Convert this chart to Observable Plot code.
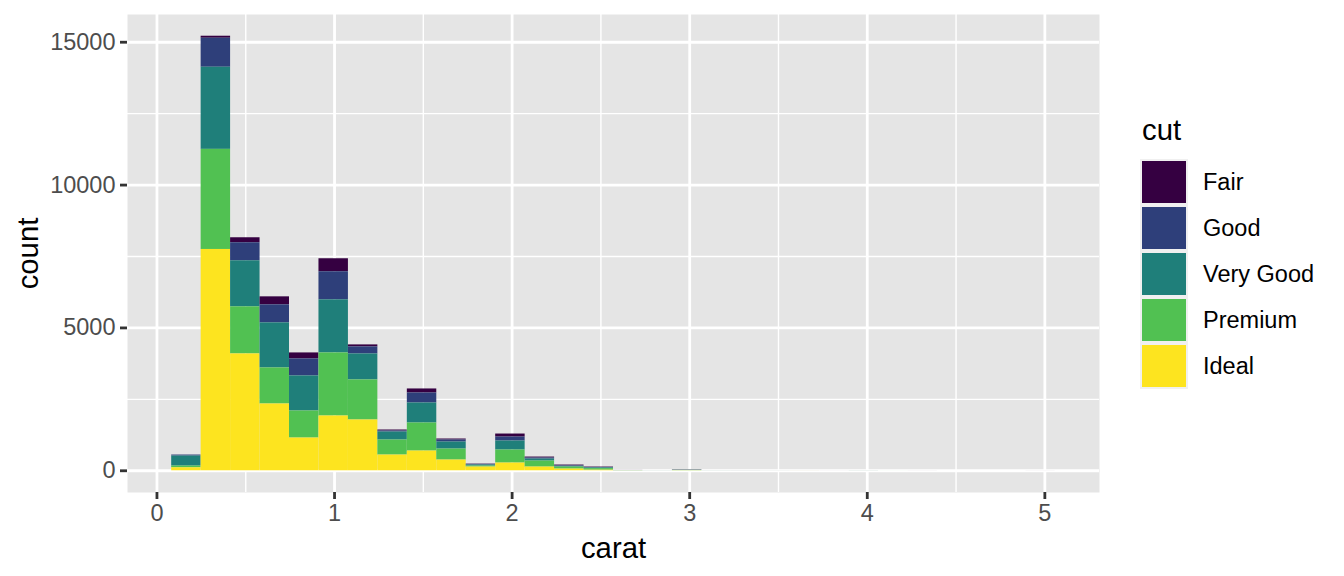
<!DOCTYPE html>
<html>
<head>
<meta charset="utf-8">
<script src="https://cdn.jsdelivr.net/npm/d3@7"></script>
<script src="https://cdn.jsdelivr.net/npm/@observablehq/plot@0.6"></script>
<style>
  html, body { margin: 0; padding: 0; background: #ffffff; }
  #wrap { position: relative; width: 1344px; height: 576px; font-family: "Liberation Sans", Arial, sans-serif; }
  #legend { position: absolute; left: 1140px; top: 0px; }
  .ltitle { position: absolute; left: 2px; top: 112px; font-size: 29.3px; color: #000; white-space: nowrap; line-height: 36px; }
  .lkeys { position: absolute; left: 0px; top: 159px; width: 48px; background: #F0F0F0; padding: 1px 0; }
  .lkey { width: 44px; height: 42px; margin: 1px 2px 4px 2px; }
  .lkey:last-child { margin-bottom: 1px; }
  .llab { position: absolute; left: 63px; font-size: 23.5px; color: #000; white-space: nowrap; line-height: 28px; }
</style>
</head>
<body>
<div id="wrap">
  <div id="chart"></div>
  <div id="legend"></div>
</div>
<script>
// ---- data ----
const cuts = ["Fair", "Good", "Very Good", "Premium", "Ideal"];
const cutColors = ["#350041", "#2E3F7A", "#1F7F7A", "#51C152", "#FDE41F"];
// left edge of each of the 30 histogram bins (carat); bin width below
const binStarts = [0.0829, 0.2488, 0.4147, 0.5805, 0.7464, 0.9123, 1.0781, 1.2440, 1.4099, 1.5757,
                   1.7416, 1.9075, 2.0733, 2.2392, 2.4051, 2.5709, 2.7368, 2.9027, 3.0685, 3.2344,
                   3.4003, 3.5661, 3.7320, 3.8979, 4.0637, 4.2296, 4.3955, 4.5613, 4.7272, 4.8931];
const binWidth = 0.16586;
const idealCounts    = [105, 7746, 4090, 2338, 1146, 1917, 1778, 550, 690, 375, 130, 270, 130, 60, 20, 2, 0, 4, 0, 0, 0, 1, 0, 0, 0, 0, 0, 0, 0, 0];
const premiumCounts  = [60, 3504, 1648, 1262, 947, 2208, 1402, 526, 982, 385, 35, 456, 210, 70, 55, 4, 1, 10, 1, 1, 1, 0, 0, 1, 1, 0, 0, 0, 0, 0];
const veryGoodCounts = [350, 2875, 1612, 1577, 1226, 1858, 910, 280, 701, 246, 35, 315, 70, 24, 25, 2, 1, 3, 1, 0, 0, 0, 0, 1, 0, 0, 0, 0, 0, 0];
const goodCounts     = [35, 1015, 631, 631, 596, 983, 246, 36, 350, 70, 24, 140, 35, 21, 15, 1, 0, 3, 0, 1, 0, 0, 0, 0, 0, 0, 0, 0, 0, 0];
const fairCounts     = [2, 70, 175, 280, 210, 455, 70, 35, 141, 36, 11, 105, 35, 25, 15, 3, 1, 10, 1, 1, 1, 1, 1, 1, 0, 1, 0, 0, 0, 1];
const xTicks = [0, 1, 2, 3, 4, 5];
const yTicks = [0, 5000, 10000, 15000];

// ---- build table ----
const countsByCut = {"Fair": fairCounts, "Good": goodCounts, "Very Good": veryGoodCounts, "Premium": premiumCounts, "Ideal": idealCounts};
const rows = [];
binStarts.forEach((x0, i) => {
  for (const c of cuts) rows.push({x1: x0, x2: x0 + binWidth, cut: c, count: countsByCut[c][i]});
});
const totals = binStarts.map((_, i) => cuts.reduce((s, c) => s + countsByCut[c][i], 0));
const yMax = d3.max(totals);
const xMin = binStarts[0], xMax = binStarts[binStarts.length - 1] + binWidth;
const xPad = (xMax - xMin) * 0.05;
const yPad = yMax * 0.05;

const minorX = d3.range(xTicks.length - 1).map(i => (xTicks[i] + xTicks[i + 1]) / 2);
const minorY = d3.range(yTicks.length - 1).map(i => (yTicks[i] + yTicks[i + 1]) / 2);

const chart = Plot.plot({
  width: 1344,
  height: 576,
  marginLeft: 127,
  marginRight: 245,
  marginTop: 14,
  marginBottom: 84,
  style: {fontFamily: "Liberation Sans, Arial, sans-serif", background: "transparent"},
  x: {domain: [xMin - xPad, xMax + xPad]},
  y: {domain: [-yPad, yMax + yPad]},
  color: {domain: cuts, range: cutColors},
  marks: [
    Plot.frame({fill: "#E5E5E5", stroke: null}),
    Plot.gridX(minorX, {stroke: "white", strokeOpacity: 1, strokeWidth: 1.4}),
    Plot.gridY(minorY, {stroke: "white", strokeOpacity: 1, strokeWidth: 1.4}),
    Plot.gridX(xTicks, {stroke: "white", strokeOpacity: 1, strokeWidth: 2.8}),
    Plot.gridY(yTicks, {stroke: "white", strokeOpacity: 1, strokeWidth: 2.8}),
    Plot.rectY(rows, Plot.stackY({
      x1: "x1", x2: "x2", y: "count", fill: "cut", z: "cut",
      order: ["Ideal", "Premium", "Very Good", "Good", "Fair"]
    })),
    Plot.axisX(xTicks, {tickSize: 7, tickPadding: 5, stroke: "#333333", strokeWidth: 2.8, fill: "#4D4D4D", fontSize: 23.5, label: null, tickFormat: d => String(d)}),
    Plot.axisY(yTicks, {tickSize: 7, tickPadding: 5, stroke: "#333333", strokeWidth: 2.8, fill: "#4D4D4D", fontSize: 23.5, label: null, tickFormat: d => String(d)}),
    Plot.text(["carat"], {frameAnchor: "bottom", dy: 56, lineAnchor: "middle", textAnchor: "middle", fontSize: 29.3, fill: "#000"}),
    Plot.text(["count"], {frameAnchor: "left", dx: -99, rotate: -90, lineAnchor: "middle", textAnchor: "middle", fontSize: 29.3, fill: "#000"})
  ]
});
document.getElementById("chart").appendChild(chart);

// ---- legend ----
const legend = document.getElementById("legend");
const title = document.createElement("div");
title.className = "ltitle";
title.textContent = "cut";
legend.appendChild(title);
const keys = document.createElement("div");
keys.className = "lkeys";
cuts.forEach((c, i) => {
  const k = document.createElement("div");
  k.className = "lkey";
  k.style.background = cutColors[i];
  keys.appendChild(k);
  const lab = document.createElement("div");
  lab.className = "llab";
  lab.style.top = (161 + 46 * i + 21 - 14) + "px";
  lab.textContent = c;
  legend.appendChild(lab);
});
legend.appendChild(keys);
</script>
</body>
</html>
